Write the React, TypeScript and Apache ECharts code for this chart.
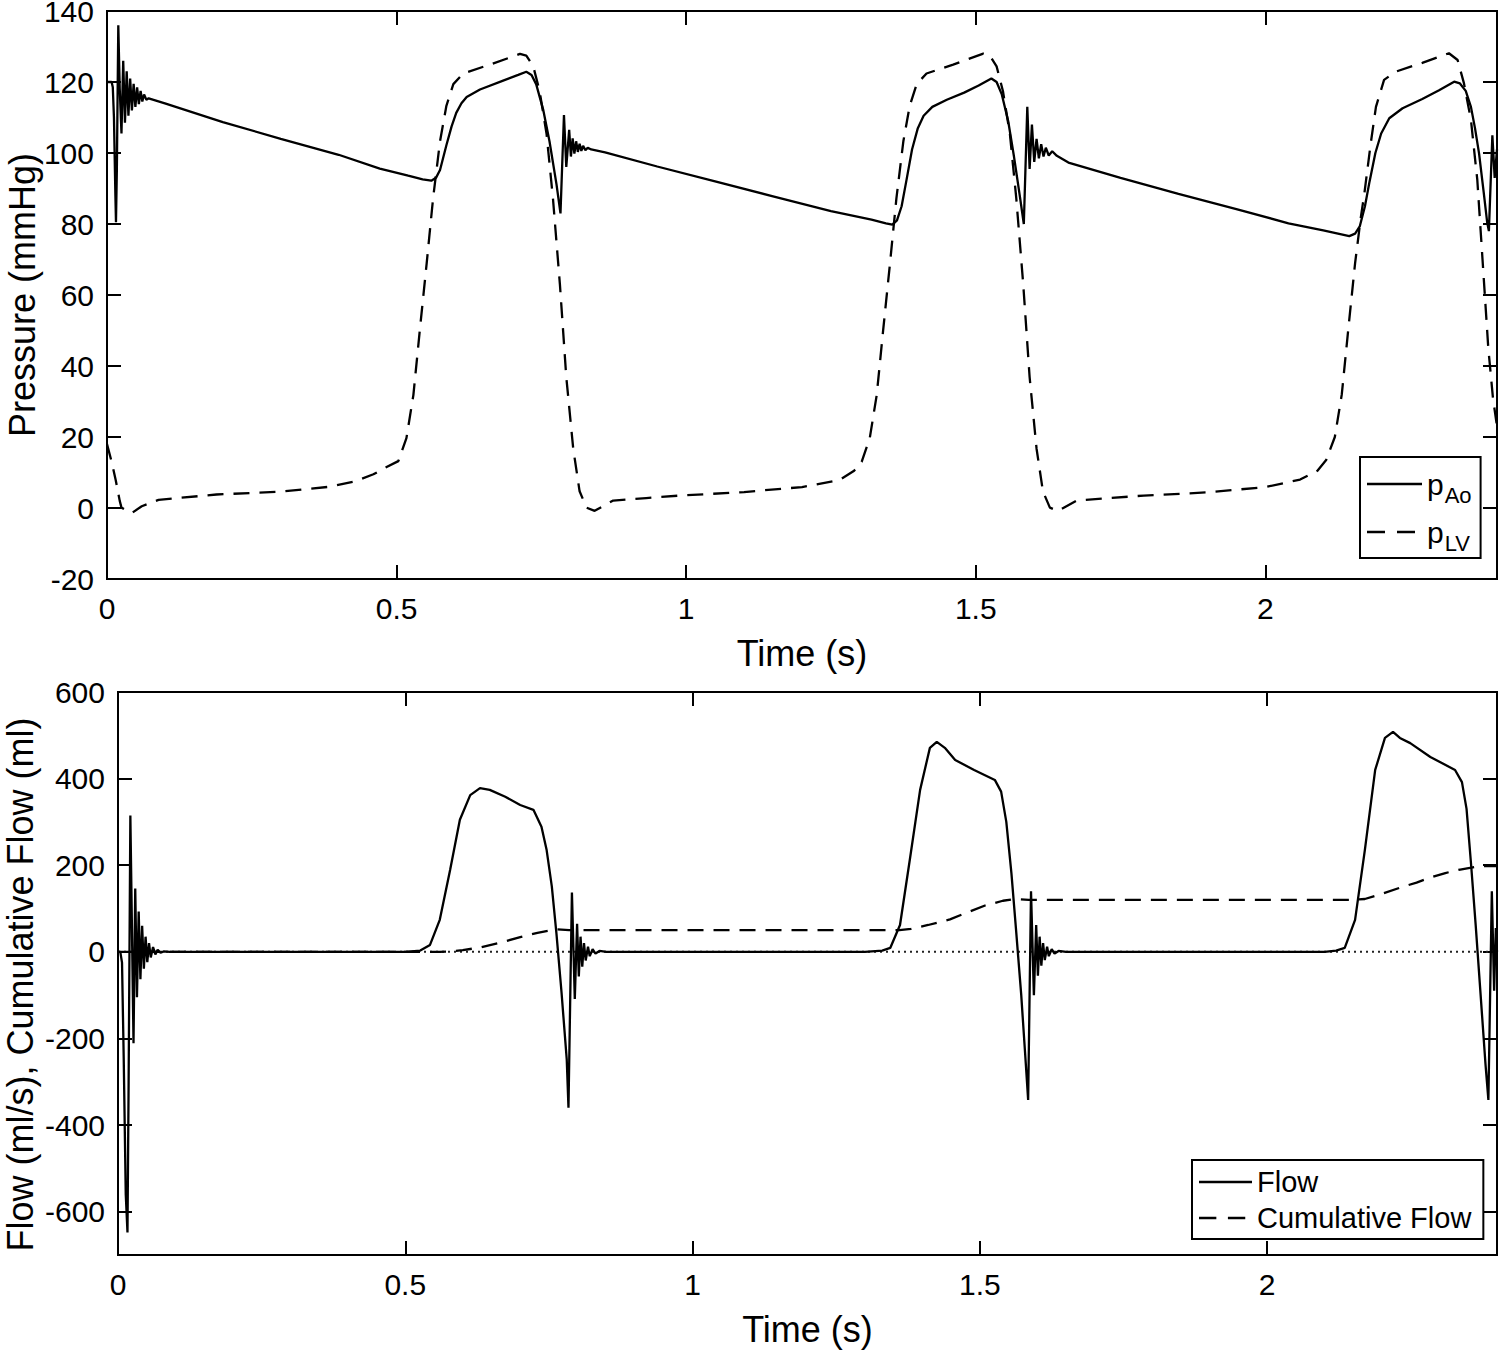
import React, { useEffect, useRef } from "react";
import * as echarts from "echarts";

const FONT = "'Liberation Sans', Arial, Helvetica, sans-serif";

// Top panel: pressures (mmHg) vs time (s)
const pAo: [number, number][] = [
  [0, 120], [0.008, 120], [0.010, 118.5], [0.012, 110], [0.0145, 88], [0.0155, 80.5], [0.017, 95],
  [0.0195, 136], [0.022, 118], [0.025, 105.5], [0.028, 126], [0.031, 108.5], [0.034, 123], [0.037, 110.5],
  [0.040, 121], [0.043, 112], [0.046, 119.5], [0.049, 113], [0.052, 118.5], [0.055, 113.8], [0.058, 117.5],
  [0.061, 114.5], [0.064, 116.5], [0.068, 115], [0.072, 115.4], [0.1, 114], [0.2, 108.7], [0.3, 104],
  [0.4, 99.5], [0.471, 95.6], [0.52, 93.6], [0.545, 92.6], [0.56, 92.2], [0.568, 93], [0.575, 95.2],
  [0.586, 102.2], [0.595, 107.5], [0.603, 111.3], [0.612, 114], [0.621, 115.8], [0.644, 117.9],
  [0.684, 120.4], [0.71, 122], [0.724, 122.9], [0.733, 122], [0.741, 119.4], [0.753, 112.3],
  [0.764, 103.3], [0.776, 91.3], [0.783, 83], [0.789, 110.7], [0.793, 96.1], [0.798, 106.5],
  [0.801, 99], [0.804, 104.1], [0.807, 99.8], [0.810, 103.3], [0.813, 100.3], [0.816, 102.6],
  [0.819, 100.6], [0.822, 102], [0.826, 100.8], [0.830, 101.5], [0.836, 101], [0.86, 100.2],
  [0.95, 96.2], [1.05, 92], [1.15, 87.8], [1.25, 83.6], [1.32, 81.2], [1.345, 80.2], [1.356, 79.8],
  [1.364, 81], [1.372, 85], [1.38, 92], [1.39, 101], [1.40, 107], [1.41, 110.5], [1.425, 113],
  [1.45, 115], [1.48, 117], [1.505, 119], [1.527, 121], [1.536, 120], [1.545, 116.5], [1.556, 109],
  [1.566, 99], [1.576, 88], [1.583, 80], [1.589, 113], [1.593, 95.5], [1.597, 108], [1.601, 97.5],
  [1.605, 104], [1.609, 98.5], [1.613, 102.5], [1.617, 99], [1.621, 101.5], [1.626, 99.3],
  [1.632, 100.5], [1.64, 99.2], [1.66, 97.3], [1.75, 93], [1.85, 88.5], [1.95, 84.2], [2.04, 80.2],
  [2.1, 78.2], [2.145, 76.6], [2.155, 77.3], [2.163, 79.3], [2.172, 85], [2.18, 92], [2.19, 100],
  [2.2, 105.5], [2.214, 109.8], [2.237, 112.6], [2.271, 115.2], [2.3, 117.7], [2.326, 120.1],
  [2.336, 119.6], [2.346, 117.5], [2.355, 113], [2.362, 107], [2.369, 99.9], [2.377, 89],
  [2.383, 80.5], [2.386, 78], [2.392, 105], [2.396, 93], [2.4, 101],
];

const pLV: [number, number][] = [
  [0, 18], [0.008, 13], [0.015, 7.9], [0.022, 2], [0.025, 0.1], [0.043, -1.4], [0.06, 0.5],
  [0.089, 2.3], [0.189, 3.8], [0.3, 4.6], [0.385, 6], [0.43, 7.6], [0.46, 9.5], [0.48, 11.3],
  [0.503, 13.2], [0.517, 19.7], [0.529, 31.8], [0.540, 49.9], [0.552, 69], [0.563, 87.2],
  [0.575, 103.3], [0.586, 113.3], [0.598, 119.4], [0.615, 122.4], [0.661, 124.9], [0.713, 127.9],
  [0.724, 127.4], [0.736, 124.4], [0.747, 117.4], [0.759, 105.3], [0.770, 87.2], [0.782, 63],
  [0.793, 36.9], [0.805, 16.7], [0.816, 4.7], [0.828, 0.1], [0.842, -0.8], [0.874, 2.1],
  [0.931, 2.8], [0.989, 3.5], [1.1, 4.5], [1.2, 5.9], [1.265, 7.9], [1.29, 10.5], [1.303, 13],
  [1.317, 19.7], [1.329, 31.8], [1.340, 49.9], [1.352, 69], [1.363, 87.2], [1.375, 103.3],
  [1.386, 113.3], [1.398, 119.4], [1.415, 122.4], [1.461, 124.9], [1.513, 128], [1.524, 127.5],
  [1.536, 124.4], [1.547, 117.4], [1.559, 105.3], [1.570, 87.2], [1.582, 63], [1.593, 36.9],
  [1.605, 16.7], [1.616, 4.7], [1.628, 0.1], [1.642, -0.8], [1.674, 2.1], [1.731, 2.8], [1.79, 3.5],
  [1.9, 4.4], [2.0, 5.9], [2.06, 8], [2.09, 10.5], [2.105, 13.5], [2.12, 20], [2.132, 32],
  [2.143, 50], [2.155, 69], [2.165, 82], [2.171, 88.6], [2.182, 102.7], [2.191, 113], [2.205, 120.6],
  [2.225, 122.9], [2.271, 125.4], [2.317, 128.1], [2.332, 126.2], [2.343, 119.6], [2.355, 109.3],
  [2.366, 92.4], [2.375, 70], [2.385, 45], [2.393, 31], [2.4, 23],
];

// Bottom panel: flow (ml/s) and cumulative flow (ml) vs time (s)
const flow: [number, number][] = [
  [0, 0], [0.004, 0], [0.007, -25], [0.010, -250], [0.0135, -560], [0.0165, -648], [0.0185, -300],
  [0.0215, 315], [0.024, 80], [0.027, -211], [0.030, 146], [0.033, -105], [0.036, 93], [0.039, -63],
  [0.042, 60], [0.045, -39], [0.048, 35], [0.051, -24], [0.054, 20], [0.057, -13], [0.061, 11],
  [0.065, -6], [0.069, 5], [0.074, -2], [0.08, 1], [0.09, 0], [0.5, 0], [0.526, 3], [0.543, 16],
  [0.560, 74], [0.578, 189], [0.595, 305], [0.613, 362], [0.630, 378], [0.647, 374], [0.674, 358],
  [0.700, 339], [0.723, 328], [0.737, 289], [0.746, 235], [0.755, 151], [0.763, 43], [0.772, -95],
  [0.781, -249], [0.784, -360], [0.790, 137], [0.795, -109], [0.799, 65], [0.802, -57], [0.805, 35],
  [0.808, -34], [0.811, 20], [0.814, -20], [0.818, 12], [0.821, -10], [0.826, 6], [0.831, -4],
  [0.838, 2], [0.85, 0], [1.30, 0], [1.33, 3], [1.344, 9], [1.361, 62], [1.378, 212], [1.396, 374],
  [1.413, 471], [1.425, 485], [1.439, 471], [1.457, 443], [1.49, 420], [1.526, 397], [1.537, 370],
  [1.546, 300], [1.555, 180], [1.563, 50], [1.572, -100], [1.580, -260], [1.584, -342], [1.589, 140],
  [1.594, -100], [1.598, 62], [1.601, -55], [1.604, 35], [1.607, -32], [1.610, 20], [1.613, -19],
  [1.617, 12], [1.620, -10], [1.625, 6], [1.630, -4], [1.637, 2], [1.65, 0], [2.10, 0], [2.12, 3],
  [2.135, 9], [2.153, 74], [2.170, 235], [2.188, 420], [2.205, 494], [2.219, 508], [2.231, 494],
  [2.249, 482], [2.284, 450], [2.327, 420], [2.339, 392], [2.347, 330], [2.355, 200], [2.363, 60],
  [2.371, -90], [2.380, -260], [2.385, -342], [2.391, 140], [2.395, -90], [2.398, 55], [2.4, 0],
];

const cumulativeFlow: [number, number][] = [
  [0, 0], [0.56, 0], [0.58, 1], [0.60, 4], [0.63, 10], [0.665, 21], [0.70, 34], [0.73, 44],
  [0.763, 52], [0.785, 50], [1.36, 50], [1.38, 53], [1.41, 62], [1.448, 75], [1.48, 92],
  [1.509, 107], [1.54, 118], [1.56, 122], [1.585, 120], [2.15, 120], [2.17, 122], [2.20, 134],
  [2.231, 148], [2.26, 160], [2.283, 171], [2.31, 182], [2.336, 190], [2.37, 198], [2.4, 198],
];

const zeroLine: [number, number][] = [[0, 0], [2.4, 0]];

const timeTicks = [0, 0.5, 1, 1.5, 2];
const pressureTicks = [-20, 0, 20, 40, 60, 80, 100, 120, 140];
const flowTicks = [-600, -400, -200, 0, 200, 400, 600];

const SOLID_ICON = "path://M0,0H55V2.4H0Z";
const DASH_ICON = "path://M0,0H18V2.4H0Z M30,0H48V2.4H30Z M54.9,1.1H55V1.3H54.9Z";

const tickStyle = { inside: true, length: 14, lineStyle: { color: "#000", width: 2 } };
const labelStyle = { color: "#000", fontSize: 30, fontFamily: FONT };
const nameStyle = { color: "#000", fontSize: 36, fontFamily: FONT };

function xAxisPair(gridIndex: number) {
  return [
    {
      type: "value", gridIndex, min: 0, max: 2.4, position: "bottom",
      name: "Time (s)", nameLocation: "middle", nameGap: 56, nameMoveOverlap: false, nameTextStyle: nameStyle,
      axisLine: { show: false, onZero: false },
      axisTick: { ...tickStyle, customValues: timeTicks },
      axisLabel: { ...labelStyle, margin: 14, customValues: timeTicks },
      splitLine: { show: false },
    },
    {
      type: "value", gridIndex, min: 0, max: 2.4, position: "top",
      axisLine: { show: false, onZero: false },
      axisTick: { ...tickStyle, customValues: timeTicks },
      axisLabel: { show: false },
      splitLine: { show: false },
    },
  ];
}

function yAxisPair(gridIndex: number, min: number, max: number, ticks: number[], name: string, gap: number, namePad: number[]) {
  return [
    {
      type: "value", gridIndex, min, max, position: "left",
      name, nameLocation: "middle", nameGap: gap, nameMoveOverlap: false, nameTextStyle: { ...nameStyle, padding: namePad },
      axisLine: { show: false, onZero: false },
      axisTick: { ...tickStyle, customValues: ticks },
      axisLabel: { ...labelStyle, margin: 13, lineHeight: 26, padding: [6, 0, 0, 0], customValues: ticks },
      splitLine: { show: false },
    },
    {
      type: "value", gridIndex, min, max, position: "right",
      axisLine: { show: false, onZero: false },
      axisTick: { ...tickStyle, customValues: ticks },
      axisLabel: { show: false },
      splitLine: { show: false },
    },
  ];
}

export default function App() {
  const ref = useRef<HTMLDivElement>(null);
  useEffect(() => {
    if (!ref.current) return;
    const chart = echarts.init(ref.current, null, { renderer: "svg" });
    const solid = { color: "#000", width: 2.3, type: "solid" };
    const dashed = { color: "#000", width: 2.3, type: [16, 10] };
    chart.setOption({
      animation: false,
      backgroundColor: "#fff",
      textStyle: { fontFamily: FONT },
      grid: [
        { left: 107, top: 11, width: 1390, height: 568, show: true, borderColor: "#000", borderWidth: 2, backgroundColor: "transparent", containLabel: false, outerBoundsMode: "none" },
        { left: 118, top: 692, width: 1379, height: 563, show: true, borderColor: "#000", borderWidth: 2, backgroundColor: "transparent", containLabel: false, outerBoundsMode: "none" },
      ],
      xAxis: [...xAxisPair(0), ...xAxisPair(1)],
      yAxis: [
        ...yAxisPair(0, -20, 140, pressureTicks, "Pressure (mmHg)", 67, [0, 0, 0, 0]),
        ...yAxisPair(1, -700, 600, flowTicks, "Flow (ml/s), Cumulative Flow (ml)", 80, [0, 22, 0, 0]),
      ],
      legend: [
        {
          data: [{ name: "pAo", icon: SOLID_ICON }, { name: "pLV", icon: DASH_ICON }],
          orient: "vertical",
          left: 1360, top: 457,
          padding: [4, 9, 3, 7],
          itemGap: 2,
          itemWidth: 55, itemHeight: 2.4,
          borderColor: "#000", borderWidth: 2, backgroundColor: "#fff",
          itemStyle: { color: "#000", borderWidth: 0 },
          formatter: (n: string) => (n === "pAo" ? "{p|p}{s|Ao}" : "{p|p}{s|LV}"),
          textStyle: {
            color: "#000", fontFamily: FONT,
            rich: {
              p: { fontSize: 30, lineHeight: 30, fontFamily: FONT, color: "#000" },
              s: { fontSize: 22, lineHeight: 22, padding: [24, 0, 0, 1], fontFamily: FONT, color: "#000" },
            },
          },
        },
        {
          data: [{ name: "Flow", icon: SOLID_ICON }, { name: "Cumulative Flow", icon: DASH_ICON }],
          orient: "vertical",
          left: 1192, top: 1160,
          padding: [5, 12, 4, 7],
          itemGap: 2,
          itemWidth: 53, itemHeight: 2.4,
          borderColor: "#000", borderWidth: 2, backgroundColor: "#fff",
          itemStyle: { color: "#000", borderWidth: 0 },
          textStyle: { color: "#000", fontSize: 29, lineHeight: 34, fontFamily: FONT },
        },
      ],
      series: [
        { name: "pAo", type: "line", xAxisIndex: 0, yAxisIndex: 0, data: pAo, symbol: "none", lineStyle: solid, itemStyle: { color: "#000" }, z: 3 },
        { name: "pLV", type: "line", xAxisIndex: 0, yAxisIndex: 0, data: pLV, symbol: "none", lineStyle: dashed, itemStyle: { color: "#000" }, z: 2 },
        { name: "zero", type: "line", xAxisIndex: 2, yAxisIndex: 2, data: zeroLine, symbol: "none", lineStyle: { color: "#222", width: 2, type: [2, 4] }, z: 1, silent: true },
        { name: "Cumulative Flow", type: "line", xAxisIndex: 2, yAxisIndex: 2, data: cumulativeFlow, symbol: "none", lineStyle: dashed, itemStyle: { color: "#000" }, z: 2 },
        { name: "Flow", type: "line", xAxisIndex: 2, yAxisIndex: 2, data: flow, symbol: "none", lineStyle: solid, itemStyle: { color: "#000" }, z: 3 },
      ],
    });
    return () => chart.dispose();
  }, []);
  return <div ref={ref} style={{ position: "absolute", left: 0, top: 0, width: 1500, height: 1350, background: "#fff" }} />;
}
